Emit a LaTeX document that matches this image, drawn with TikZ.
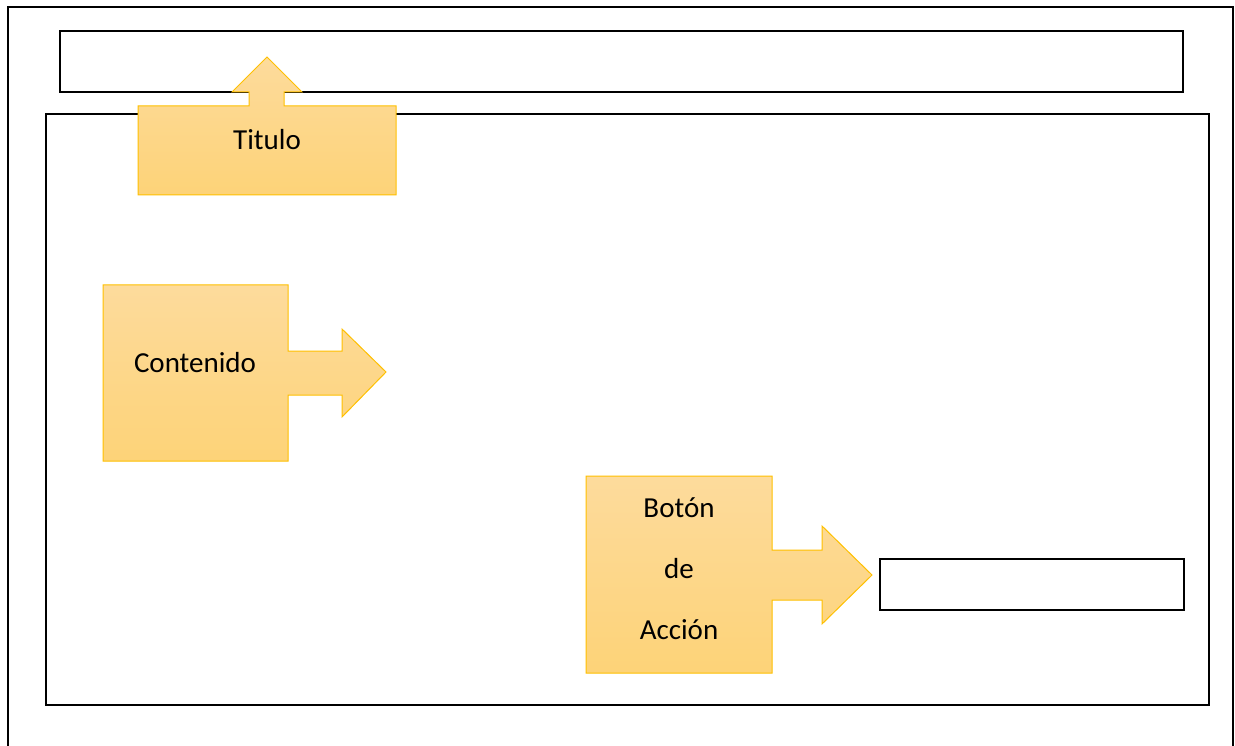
\documentclass[tikz,border=0pt]{standalone}
\usepackage{fontspec}
\setmainfont{Carlito}
\definecolor{calloutTop}{HTML}{FDDB9C}
\definecolor{calloutBot}{HTML}{FDD378}
\definecolor{calloutEdge}{HTML}{FFC000}
\tikzset{
  frame/.style={draw=black, line width=2pt},
  callout/.style={top color=calloutTop, bottom color=calloutBot, draw=calloutEdge, line width=1pt, line join=miter},
  label/.style={inner sep=0pt, font=\fontsize{29}{61}\selectfont, text=black, align=center}
}
\begin{document}
\begin{tikzpicture}[x=1pt, y=-1pt]
  \useasboundingbox (0,0) rectangle (1235,746);
  \fill[white] (0,0) rectangle (1235,746);

  % page frame (runs off the lower edge)
  \draw[frame] (8,760) -- (8,7) -- (1233,7) -- (1233,760);
  % header bar and body panel
  \node[frame, inner sep=0pt, minimum width=1123pt, minimum height=61pt, anchor=north west] (header) at (59,30) {};
  \node[frame, inner sep=0pt, minimum width=1163pt, minimum height=591pt, anchor=north west] (body) at (45,113) {};
  % target of the action button
  \node[frame, inner sep=0pt, minimum width=304pt, minimum height=51pt, anchor=north west] (target) at (879,558) {};

  % "Titulo" callout pointing up into the header
  \coordinate (titTip) at (267,57);
  \shade[callout] (138,106) -- (249,106) -- (249,92) -- (232,92) -- (titTip) -- (302,92) -- (284,92)
    -- (284,106) -- (396,106) -- (396,195) -- (138,195) -- cycle;
  \node[label] (titulo) at (267,140) {Titulo};

  % "Contenido" callout pointing right
  \coordinate (conTip) at (386,372);
  \shade[callout] (103,285) -- (288,285) -- (288,351) -- (342,351) -- (342,329) -- (conTip) -- (342,417)
    -- (342,395) -- (288,395) -- (288,461) -- (103,461) -- cycle;
  \node[label] (contenido) at (195,363) {Contenido};

  % "Botón de Acción" callout pointing at the target box
  \coordinate (botTip) at (872,575);
  \shade[callout] (586,476) -- (772,476) -- (772,550) -- (822,550) -- (822,526) -- (botTip) -- (822,624)
    -- (822,600) -- (772,600) -- (772,673) -- (586,673) -- cycle;
  \node[label] (boton) at (679,569) {Botón\\de\\Acción};
\end{tikzpicture}
\end{document}
